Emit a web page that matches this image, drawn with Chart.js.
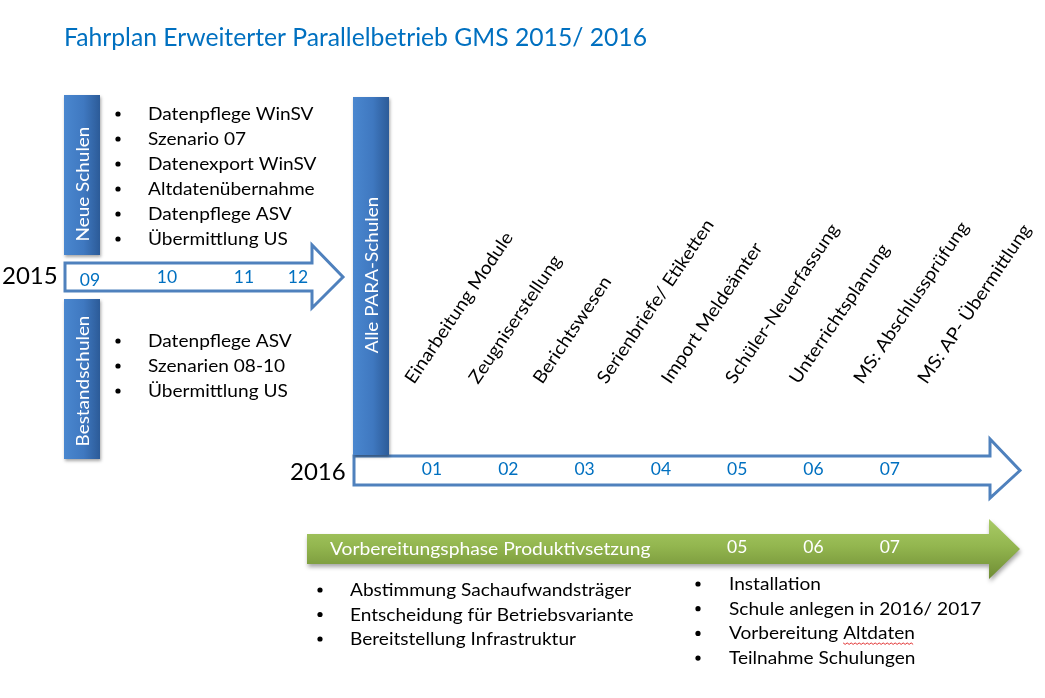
<!DOCTYPE html>
<html><head><meta charset="utf-8">
<script src="https://cdn.jsdelivr.net/npm/chart.js@4/dist/chart.umd.min.js"></script>
<style>html,body{margin:0;padding:0;background:#fff}canvas{display:block}</style>
</head><body>
<canvas id="c" width="1045" height="698"></canvas>
<script>
// ---- content ----
const title = 'Fahrplan Erweiterter Parallelbetrieb GMS 2015/ 2016';
const years = ['2015', '2016'];
const months2015 = ['09', '10', '11', '12'];
const months2016 = ['01', '02', '03', '04', '05', '06', '07'];
const monthsProd = ['05', '06', '07'];
const groupLabels = ['Neue Schulen', 'Bestandschulen', 'Alle PARA-Schulen'];
const neueSchulenTasks = ['Datenpflege WinSV', 'Szenario 07', 'Datenexport WinSV', 'Altdatenübernahme', 'Datenpflege ASV', 'Übermittlung US'];
const bestandTasks = ['Datenpflege ASV', 'Szenarien 08-10', 'Übermittlung US'];
const paraTopics = ['Einarbeitung Module', 'Zeugniserstellung', 'Berichtswesen', 'Serienbriefe/ Etiketten', 'Import Meldeämter', 'Schüler-Neuerfassung', 'Unterrichtsplanung', 'MS: Abschlussprüfung', 'MS: AP- Übermittlung'];
const prodPhase = 'Vorbereitungsphase Produktivsetzung';
const prodTasksLeft = ['Abstimmung Sachaufwandsträger', 'Entscheidung für Betriebsvariante', 'Bereitstellung Infrastruktur'];
const prodTasksRight = ['Installation', 'Schule anlegen in 2016/ 2017', 'Vorbereitung Altdaten', 'Teilnahme Schulungen'];

// ---- layout (canvas-unit coordinates, mapped through the chart scales) ----
const LAYOUT = {
  title: {x: 64, y: 46},
  box1: {x: 64, y: 95, w: 36, h: 160, ty: 9},
  box2: {x: 64, y: 299, w: 36, h: 160, ty: 2},
  box3: {x: 353, y: 97, w: 36, h: 358, ty: -1},
  arrow2015: {x0: 65, yT: 263, yB: 291, hx: 312, hT: 245, hB: 308, tip: 343},
  arrow2016: {x0: 354, yT: 456, yB: 485, hx: 990, hT: 439, hB: 498, tip: 1020},
  arrowProd: {x0: 307, yT: 534, yB: 564, hx: 989, hT: 519, hB: 579, tip: 1020},
  year2015: {x: 2, y: 284},
  year2016: {x: 290, y: 480},
  m2015x: [90, 167, 244, 298], m2015y: [286, 283, 283, 283],
  m2016x0: 432, mStep: 76.3, m2016y: 475,
  prodY: 553,
  list1: {bx: 118, tx: 148, y0: 120, dy: 25},
  list2: {bx: 118, tx: 148, y0: 347, dy: 25},
  topics: {x0: 414, dx: 64.1, y: 385, angle: -56},
  prodText: {x: 330, y: 555},
  listL: {bx: 320, tx: 350, y0: 596, dy: 24.5},
  listR: {bx: 698, tx: 729, y0: 590, dy: 24.7}
};

const FONT = 'Lato, "Open Sans", sans-serif';
const BODY = '18px ' + FONT;
const BODY_SX = 1.06;
const BLUE_TXT = '#0070c0';
const ARROW_STROKE = '#4f81bd';

function drawText(ctx, s, x, y, o) {
  ctx.save();
  ctx.font = o.font;
  ctx.fillStyle = o.color || '#000';
  ctx.textAlign = o.align || 'left';
  ctx.textBaseline = o.baseline || 'alphabetic';
  ctx.translate(x, y);
  if (o.rot) ctx.rotate(o.rot);
  if (o.sx) ctx.scale(o.sx, 1);
  ctx.fillText(s, 0, 0);
  ctx.restore();
}

function arrowPath(ctx, X, Y, a) {
  ctx.beginPath();
  ctx.moveTo(X(a.x0), Y(a.yT));
  ctx.lineTo(X(a.hx), Y(a.yT));
  ctx.lineTo(X(a.hx), Y(a.hT));
  ctx.lineTo(X(a.tip), Y((a.yT + a.yB) / 2));
  ctx.lineTo(X(a.hx), Y(a.hB));
  ctx.lineTo(X(a.hx), Y(a.yB));
  ctx.lineTo(X(a.x0), Y(a.yB));
  ctx.closePath();
}

function blueBox(ctx, X, Y, b, label) {
  const x = X(b.x), y = Y(b.y), w = X(b.x + b.w) - x, h = Y(b.y + b.h) - y;
  ctx.save();
  ctx.shadowColor = 'rgba(0,0,0,0.35)';
  ctx.shadowBlur = 3;
  ctx.shadowOffsetX = 1;
  ctx.shadowOffsetY = 2;
  const g = ctx.createLinearGradient(x, 0, x + w, 0);
  g.addColorStop(0, '#4a87cf');
  g.addColorStop(0.55, '#3f78c0');
  g.addColorStop(1, '#2c5b98');
  ctx.fillStyle = g;
  ctx.fillRect(x, y, w, h);
  ctx.restore();
  drawText(ctx, label, x + w / 2 + 1, y + h / 2 + (b.ty || 0), {font: '18px ' + FONT, color: '#fff', align: 'center', baseline: 'middle', rot: -Math.PI / 2, sx: 1.05});
}

function bulletList(ctx, X, Y, items, L) {
  items.forEach((s, i) => {
    const yb = L.y0 + i * L.dy;
    ctx.save();
    ctx.fillStyle = '#000';
    ctx.beginPath();
    ctx.arc(X(L.bx), Y(yb - 6), 2.6, 0, Math.PI * 2);
    ctx.fill();
    ctx.restore();
    drawText(ctx, s, X(L.tx), Y(yb), {font: BODY, sx: BODY_SX});
  });
}

const diagramPlugin = {
  id: 'diagram',
  afterDraw(chart) {
    const ctx = chart.ctx;
    const sx = chart.scales.x, sy = chart.scales.y;
    const X = v => sx.getPixelForValue(v);
    const Y = v => sy.getPixelForValue(v);
    const Lo = LAYOUT;

    // title
    drawText(ctx, title, X(Lo.title.x), Y(Lo.title.y), {font: '24.7px ' + FONT, color: BLUE_TXT});

    // 2015 arrow
    ctx.save();
    arrowPath(ctx, X, Y, Lo.arrow2015);
    ctx.fillStyle = '#fff'; ctx.fill();
    ctx.lineWidth = 3; ctx.strokeStyle = ARROW_STROKE; ctx.lineJoin = 'miter'; ctx.stroke();
    ctx.restore();

    // 2016 arrow
    ctx.save();
    arrowPath(ctx, X, Y, Lo.arrow2016);
    ctx.fillStyle = '#fff'; ctx.fill();
    ctx.lineWidth = 3; ctx.strokeStyle = ARROW_STROKE; ctx.stroke();
    ctx.restore();

    // production arrow (green)
    ctx.save();
    ctx.shadowColor = 'rgba(0,0,0,0.35)';
    ctx.shadowBlur = 4; ctx.shadowOffsetY = 3; ctx.shadowOffsetX = 1;
    arrowPath(ctx, X, Y, Lo.arrowProd);
    const gg = ctx.createLinearGradient(0, Y(Lo.arrowProd.hT), 0, Y(Lo.arrowProd.hB));
    gg.addColorStop(0, '#a9cb66');
    gg.addColorStop(0.45, '#93b64f');
    gg.addColorStop(1, '#6f8c34');
    ctx.fillStyle = gg; ctx.fill();
    ctx.restore();

    // boxes
    blueBox(ctx, X, Y, Lo.box1, groupLabels[0]);
    blueBox(ctx, X, Y, Lo.box2, groupLabels[1]);
    blueBox(ctx, X, Y, Lo.box3, groupLabels[2]);

    // years
    drawText(ctx, years[0], X(Lo.year2015.x), Y(Lo.year2015.y), {font: '24px ' + FONT});
    drawText(ctx, years[1], X(Lo.year2016.x), Y(Lo.year2016.y), {font: '24px ' + FONT});

    // months
    const MF = '17.5px ' + FONT;
    months2015.forEach((m, i) => drawText(ctx, m, X(Lo.m2015x[i]), Y(Lo.m2015y[i]), {font: MF, color: BLUE_TXT, align: 'center'}));
    months2016.forEach((m, i) => drawText(ctx, m, X(Lo.m2016x0 + i * Lo.mStep), Y(Lo.m2016y), {font: MF, color: BLUE_TXT, align: 'center'}));
    monthsProd.forEach(m => {
      const i = months2016.indexOf(m);
      drawText(ctx, m, X(Lo.m2016x0 + i * Lo.mStep), Y(Lo.prodY), {font: '17.5px ' + FONT, color: '#fff', align: 'center'});
    });

    // task lists
    bulletList(ctx, X, Y, neueSchulenTasks, Lo.list1);
    bulletList(ctx, X, Y, bestandTasks, Lo.list2);

    // rotated topics
    paraTopics.forEach((t, i) => {
      drawText(ctx, t, X(Lo.topics.x0 + i * Lo.topics.dx), Y(Lo.topics.y), {font: '18px ' + FONT, rot: Lo.topics.angle * Math.PI / 180, sx: 1.08});
    });

    // production phase text
    drawText(ctx, prodPhase, X(Lo.prodText.x), Y(Lo.prodText.y), {font: '18px ' + FONT, color: '#fff', sx: 1.07});

    // production task lists
    bulletList(ctx, X, Y, prodTasksLeft, Lo.listL);
    bulletList(ctx, X, Y, prodTasksRight, Lo.listR);

    // spell-check squiggle under "Altdaten"
    ctx.save();
    ctx.font = BODY;
    const pre = ctx.measureText('Vorbereitung ').width * BODY_SX;
    const wAlt = ctx.measureText('Altdaten').width * BODY_SX;
    const sx0 = X(Lo.listR.tx) + pre, yq = Y(Lo.listR.y0 + 2 * Lo.listR.dy + 4);
    ctx.strokeStyle = '#e03030'; ctx.lineWidth = 1;
    ctx.beginPath();
    for (let k = 0; k <= wAlt; k += 2) {
      const yy = yq + ((k / 2) % 2 ? 1 : -0.5);
      if (k === 0) ctx.moveTo(sx0 + k, yy); else ctx.lineTo(sx0 + k, yy);
    }
    ctx.stroke();
    ctx.restore();
  }
};

new Chart(document.getElementById('c'), {
  type: 'scatter',
  data: {datasets: [{data: [], pointRadius: 0}]},
  options: {
    responsive: false,
    animation: false,
    devicePixelRatio: 1,
    layout: {padding: 0},
    plugins: {legend: {display: false}, tooltip: {enabled: false}, title: {display: false}},
    scales: {
      x: {type: 'linear', min: 0, max: 1045, display: false},
      y: {type: 'linear', min: 0, max: 698, reverse: true, display: false}
    }
  },
  plugins: [diagramPlugin]
});
</script>
</body></html>
